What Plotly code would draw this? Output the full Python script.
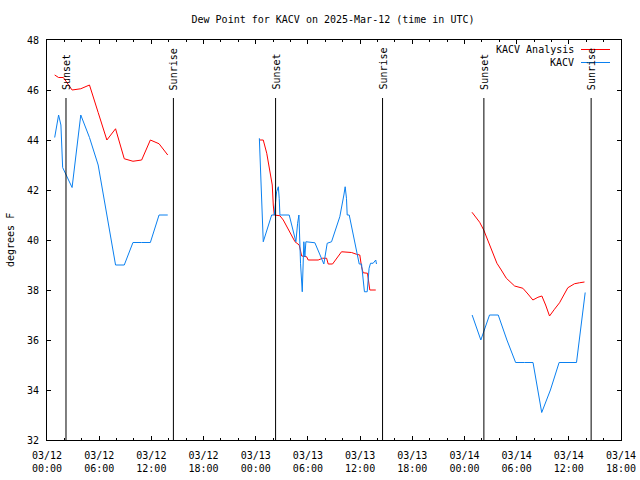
import plotly.graph_objects as go

FONT = "DejaVu Sans Mono"

# ---------------- data ----------------
analysis_d1_times = ["2025-03-12 00:53", "2025-03-12 01:20", "2025-03-12 01:53", "2025-03-12 02:53",
                     "2025-03-12 03:53", "2025-03-12 04:53", "2025-03-12 05:53", "2025-03-12 06:53",
                     "2025-03-12 07:53", "2025-03-12 08:53", "2025-03-12 09:53", "2025-03-12 10:53",
                     "2025-03-12 11:53", "2025-03-12 12:53", "2025-03-12 13:53"]
analysis_d1_vals = [46.6, 46.5, 46.5, 46.0, 46.05, 46.2, 45.1, 44.0, 44.45, 43.25, 43.15, 43.2,
                    44.0, 43.85, 43.4]

analysis_d2_times = ["2025-03-13 00:25", "2025-03-13 00:52", "2025-03-13 01:16", "2025-03-13 01:38",
                     "2025-03-13 01:54", "2025-03-13 02:01", "2025-03-13 02:08", "2025-03-13 02:47",
                     "2025-03-13 03:10", "2025-03-13 04:31", "2025-03-13 05:00", "2025-03-13 05:17",
                     "2025-03-13 05:51", "2025-03-13 06:02", "2025-03-13 07:11", "2025-03-13 07:41",
                     "2025-03-13 08:09", "2025-03-13 08:20", "2025-03-13 08:50", "2025-03-13 09:52",
                     "2025-03-13 11:01", "2025-03-13 11:35", "2025-03-13 11:58", "2025-03-13 12:10",
                     "2025-03-13 12:21", "2025-03-13 12:51", "2025-03-13 13:02", "2025-03-13 13:07",
                     "2025-03-13 13:48"]
analysis_d2_vals = [44.0, 44.0, 43.47, 42.8, 42.2, 41.4, 41.0, 40.97, 40.8, 39.93, 39.8, 39.36,
                    39.33, 39.2, 39.2, 39.27, 39.27, 39.04, 39.04, 39.53, 39.5, 39.43, 39.4, 38.93,
                    38.69, 38.67, 38.13, 38.0, 38.0]

analysis_d3_times = ["2025-03-14 00:52", "2025-03-14 01:22", "2025-03-14 01:45", "2025-03-14 02:13",
                     "2025-03-14 02:42", "2025-03-14 03:16", "2025-03-14 03:44", "2025-03-14 04:14",
                     "2025-03-14 04:49", "2025-03-14 05:46", "2025-03-14 06:16", "2025-03-14 06:43",
                     "2025-03-14 07:18", "2025-03-14 07:52", "2025-03-14 08:27", "2025-03-14 08:54",
                     "2025-03-14 09:20", "2025-03-14 09:47", "2025-03-14 10:21", "2025-03-14 10:56",
                     "2025-03-14 11:53", "2025-03-14 12:39", "2025-03-14 13:14", "2025-03-14 13:48"]
analysis_d3_vals = [41.11, 40.87, 40.71, 40.4, 40.0, 39.47, 39.07, 38.8, 38.47, 38.16, 38.11, 38.07,
                    37.84, 37.6, 37.71, 37.76, 37.4, 36.96, 37.23, 37.49, 38.09, 38.25, 38.29, 38.32]

obs_d1_times = ["2025-03-12 00:53", "2025-03-12 01:20", "2025-03-12 01:36", "2025-03-12 01:48",
                "2025-03-12 02:53", "2025-03-12 03:53", "2025-03-12 04:53", "2025-03-12 05:53",
                "2025-03-12 06:53", "2025-03-12 07:53", "2025-03-12 08:53", "2025-03-12 09:53",
                "2025-03-12 10:53", "2025-03-12 11:53", "2025-03-12 12:53", "2025-03-12 13:53"]
obs_d1_vals = [44.1, 45.0, 44.6, 42.9, 42.1, 45.0, 44.1, 43.0, 41.0, 39.0, 39.0, 39.9, 39.9, 39.9,
               41.0, 41.0]

obs_d2_times = ["2025-03-13 00:25", "2025-03-13 00:34", "2025-03-13 00:41", "2025-03-13 00:52",
                "2025-03-13 01:50", "2025-03-13 02:08", "2025-03-13 02:24", "2025-03-13 02:36",
                "2025-03-13 02:42", "2025-03-13 02:47", "2025-03-13 03:51", "2025-03-13 04:37",
                "2025-03-13 04:49", "2025-03-13 04:58", "2025-03-13 05:09", "2025-03-13 05:21",
                "2025-03-13 05:32", "2025-03-13 05:39", "2025-03-13 05:46", "2025-03-13 06:48",
                "2025-03-13 07:50", "2025-03-13 08:13", "2025-03-13 08:43", "2025-03-13 09:40",
                "2025-03-13 10:08", "2025-03-13 10:17", "2025-03-13 10:26", "2025-03-13 10:31",
                "2025-03-13 10:45", "2025-03-13 11:54", "2025-03-13 12:10", "2025-03-13 12:30",
                "2025-03-13 12:49", "2025-03-13 13:02", "2025-03-13 13:12", "2025-03-13 13:30",
                "2025-03-13 13:48", "2025-03-13 13:53"]
obs_d2_vals = [44.07, 42.8, 41.6, 39.93, 41.0, 41.0, 41.93, 42.13, 41.67, 41.0, 41.0, 39.93,
               40.67, 41.0, 39.07, 37.93, 39.93, 39.33, 39.93, 39.89, 39.04, 39.87, 39.93, 40.93,
               41.8, 42.13, 41.67, 41.0, 41.0, 39.04, 39.04, 37.93, 37.93, 38.87, 39.07, 39.07,
               39.2, 39.04]

obs_d3_times = ["2025-03-14 00:53", "2025-03-14 01:53", "2025-03-14 02:53", "2025-03-14 03:53",
                "2025-03-14 04:53", "2025-03-14 05:53", "2025-03-14 06:53", "2025-03-14 07:53",
                "2025-03-14 08:53", "2025-03-14 09:53", "2025-03-14 10:53", "2025-03-14 11:53",
                "2025-03-14 12:53", "2025-03-14 13:53"]
obs_d3_vals = [37.0, 36.0, 37.0, 37.0, 36.0, 35.1, 35.1, 35.1, 33.1, 34.0, 35.1, 35.1, 35.1, 37.9]

sun_times = ["2025-03-12 02:11", "2025-03-12 14:32", "2025-03-13 02:17",
             "2025-03-13 14:35", "2025-03-14 02:14", "2025-03-14 14:34"]
sun_labels = ["Sunset", "Sunrise", "Sunset", "Sunrise", "Sunset", "Sunrise"]

series_names = ["KACV Analysis", "KACV"]
series_colors = ["#ff0000", "#0a80f0"]

title_text = "Dew Point for KACV on 2025-Mar-12 (time in UTC)"
y_title = "degrees F"


def join(segments):
    xs, ys = [], []
    for t, v in segments:
        if xs:
            xs.append(None)
            ys.append(None)
        xs.extend(t)
        ys.extend(v)
    return xs, ys


ax, ay = join([(analysis_d1_times, analysis_d1_vals), (analysis_d2_times, analysis_d2_vals),
               (analysis_d3_times, analysis_d3_vals)])
ox, oy = join([(obs_d1_times, obs_d1_vals), (obs_d2_times, obs_d2_vals),
               (obs_d3_times, obs_d3_vals)])

fig = go.Figure()
fig.add_trace(go.Scatter(x=ax, y=ay, mode="lines", name=series_names[0],
                         line=dict(color=series_colors[0], width=1), connectgaps=False,
                         showlegend=False))
fig.add_trace(go.Scatter(x=ox, y=oy, mode="lines", name=series_names[1],
                         line=dict(color=series_colors[1], width=1), connectgaps=False,
                         showlegend=False))

L, R, T, B = 47, 19, 40, 40
W, H = 640, 480
pw, ph = W - L - R, H - T - B


def px_x(p):
    return (p - L) / pw


def px_y(p):
    return (H - B - p) / ph


shapes = []
annotations = []
for t, lab in zip(sun_times, sun_labels):
    shapes.append(dict(type="line", xref="x", yref="paper", x0=t, x1=t, y0=0, y1=px_y(98),
                       line=dict(color="black", width=1)))
    annotations.append(dict(text=lab, xref="x", yref="paper", x=t, y=px_y(92),
                            textangle=-90, xanchor="center", yanchor="bottom",
                            showarrow=False, font=dict(family=FONT, size=10, color="black")))

# legend drawn gnuplot-style (text left of sample line)
for i, (name, col) in enumerate(zip(series_names, series_colors)):
    yy = px_y(49.5 + 13 * i)
    annotations.append(dict(text=name, xref="paper", yref="paper", x=px_x(576), y=yy,
                            xanchor="right", yanchor="middle", showarrow=False,
                            font=dict(family=FONT, size=10, color="black")))
    shapes.append(dict(type="line", xref="paper", yref="paper", x0=px_x(581), x1=px_x(610),
                       y0=yy, y1=yy, line=dict(color=col, width=1)))

annotations.append(dict(text=y_title, xref="paper", yref="paper", x=px_x(10), y=0.5,
                        textangle=-90, xanchor="center", yanchor="middle", showarrow=False,
                        font=dict(family=FONT, size=10, color="black")))

fig.update_layout(
    width=W, height=H, autosize=False,
    margin=dict(l=L, r=R, t=T, b=B, pad=0, autoexpand=False),
    paper_bgcolor="white", plot_bgcolor="white",
    font=dict(family=FONT, size=10, color="black"),
    title=dict(text=title_text, x=px_x(333), xref="paper", xanchor="center",
               y=1 - 19 / H, yref="container", yanchor="middle",
               font=dict(family=FONT, size=10, color="black")),
    shapes=shapes, annotations=annotations,
    xaxis=dict(type="date", range=["2025-03-12 00:00", "2025-03-14 18:00"],
               tick0="2025-03-12 00:00", dtick=6 * 3600 * 1000, automargin=False,
               tickformat="%m/%d<br>%H:%M", ticks="inside", ticklen=4, tickcolor="black",
               showline=True, linecolor="black", linewidth=1, mirror="ticks",
               showgrid=False, zeroline=False, ticklabelstandoff=6,
               minor=dict(dtick=2 * 3600 * 1000, ticks="inside", ticklen=2,
                          tickcolor="black", showgrid=False),
               tickfont=dict(family=FONT, size=10, color="black")),
    yaxis=dict(range=[32, 48], dtick=2, tick0=32, ticks="inside", ticklen=4, tickcolor="black",
               showline=True, linecolor="black", linewidth=1, mirror="ticks", automargin=False,
               showgrid=False, zeroline=False, ticklabelstandoff=5,
               tickfont=dict(family=FONT, size=10, color="black")),
)

fig.write_html("out.html", config={"displayModeBar": False},
               post_script="document.body.style.margin='0';document.body.style.overflow='hidden';")
